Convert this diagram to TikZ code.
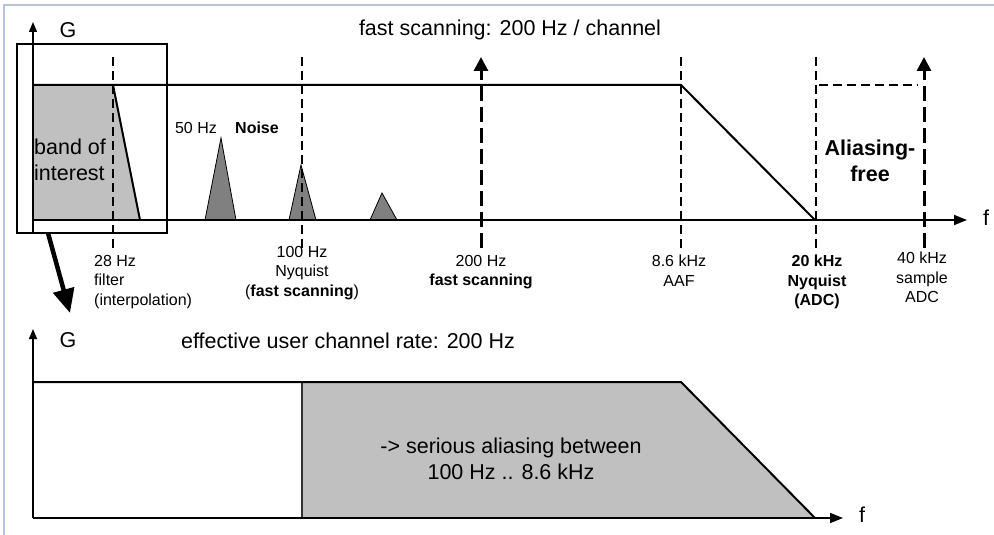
\documentclass[tikz,border=0pt]{standalone}
\usepackage{fontspec}
\setmainfont{Liberation Sans}
\usetikzlibrary{arrows.meta}
\definecolor{bandgray}{RGB}{192,192,192}
\definecolor{noisegray}{RGB}{128,128,128}
\definecolor{framecol}{RGB}{185,195,215}
\begin{document}
\begin{tikzpicture}[x=1pt,y=-1pt,
  axisline/.style={line width=1.3pt,-{Triangle[length=10pt,width=8pt]}},
  faxis/.style={line width=1.6pt,-{Triangle[length=13pt,width=10pt]}},
  mainline/.style={line width=2pt},
  vdash/.style={line width=1.3pt,dash pattern=on 9pt off 5pt},
  thickdash/.style={line width=3pt,dash pattern=on 15pt off 6pt,-{Triangle[length=14pt,width=14pt]}},
  bigtext/.style={font=\fontsize{21.5}{26}\selectfont,inner sep=0pt},
  smalltext/.style={font=\fontsize{16}{19.5}\selectfont,inner sep=0pt,align=center},
  peak/.style={fill=noisegray,draw=black,line width=0.8pt}
]
\useasboundingbox (0,0) rectangle (994,535);
\fill[white] (0,0) rectangle (994,535);
% window frame
\draw[framecol,line width=2.5pt] (4,535) -- (4,5) -- (994,5);

% ===== top diagram =====
\coordinate (tO) at (33,220);
\coordinate (tYtop) at (33,22);
\coordinate (tFend) at (967,220);
\coordinate (tL) at (33,85);
\coordinate (t28) at (113,85);
\coordinate (t28b) at (140,220);
\coordinate (tAAF) at (681,85);
\coordinate (tADC) at (815,220);

\fill[bandgray] (tL) -- (t28) -- (t28b) -- (tO) -- cycle;
\draw[mainline] (t28) -- (t28b);
\draw[mainline] (tL) -- (tAAF) -- (tADC);

% noise peaks
\draw[peak] (205,220) -- (221,138) -- (236,220) -- cycle;
\draw[peak] (289,220) -- (301,165) -- (316,220) -- cycle;
\draw[peak] (370,220) -- (382,193) -- (397,220) -- cycle;

% dashed verticals
\foreach \xx in {113,302,681,816} \draw[vdash] (\xx,57) -- (\xx,248);
\draw[vdash] (819,85) -- (918,85);
\draw[thickdash] (481,248) -- (481,57);
\draw[thickdash] (924,248) -- (924,57);

% axes
\draw[axisline] (33,232) -- (tYtop);
\draw[faxis] (tO) -- (tFend);

% zoom box and arrow
\draw[line width=1.5pt] (17,44) rectangle (167,233);
\coordinate (zs) at (48,233);
\coordinate (ze) at (70,313);
\draw[line width=4.5pt,-{Triangle[length=24pt,width=21pt]}] (zs) -- (ze);

% texts top
\node[bigtext] (gtop) at (68,30) {G};
\node[bigtext] (titletop) at (510,30) {fast scanning: 200 Hz / channel};
\node[bigtext] (ftop) at (986,218) {f};
\node[bigtext,anchor=west,align=left] (band) at (34,160) {band of\\interest};
\node[bigtext,align=center] (afree) at (870,161) {\textbf{Aliasing-}\\\textbf{free}};
\node[smalltext] (n50) at (196,128) {50 Hz};
\node[smalltext] (noise) at (257,128) {\textbf{Noise}};

\node[smalltext,anchor=north west,align=left] (l28) at (94,255) {28 Hz\\filter\\(interpolation)};
\node[smalltext,anchor=north] (l100) at (302,246) {100 Hz\\Nyquist\\(\textbf{fast scanning})};
\node[smalltext,anchor=north] (l200) at (481,255) {200 Hz\\\textbf{fast scanning}};
\node[smalltext,anchor=north] (l86) at (679,255) {8.6 kHz\\AAF};
\node[smalltext,anchor=north,font=\fontsize{16}{19.5}\selectfont\bfseries] (l20) at (817,255) {20 kHz\\Nyquist\\(ADC)};
\node[smalltext,anchor=north] (l40) at (922,252) {40 kHz\\sample\\ADC};

% ===== bottom diagram =====
\coordinate (bO) at (33,518);
\coordinate (bYtop) at (33,329);
\coordinate (bFend) at (843,518);
\coordinate (bL) at (33,382);
\coordinate (bN) at (302,382);
\coordinate (bNb) at (302,518);
\coordinate (bAAF) at (681,382);
\coordinate (bADC) at (815,518);

\fill[bandgray] (bN) -- (bAAF) -- (bADC) -- (bNb) -- cycle;
\draw[line width=1.2pt,black!80] (bN) -- (bNb);
\draw[mainline] (bL) -- (bAAF) -- (bADC);
\draw[axisline] (bO) -- (bYtop);
\draw[faxis] (bO) -- (bFend);

\node[bigtext] (gbot) at (68,340) {G};
\node[bigtext] (titlebot) at (348,341) {effective user channel rate: 200 Hz};
\node[bigtext] (fbot) at (862,515) {f};
\node[bigtext,align=center] (alias) at (511,459) {-> serious aliasing between\\100 Hz .. 8.6 kHz};
\end{tikzpicture}
\end{document}
